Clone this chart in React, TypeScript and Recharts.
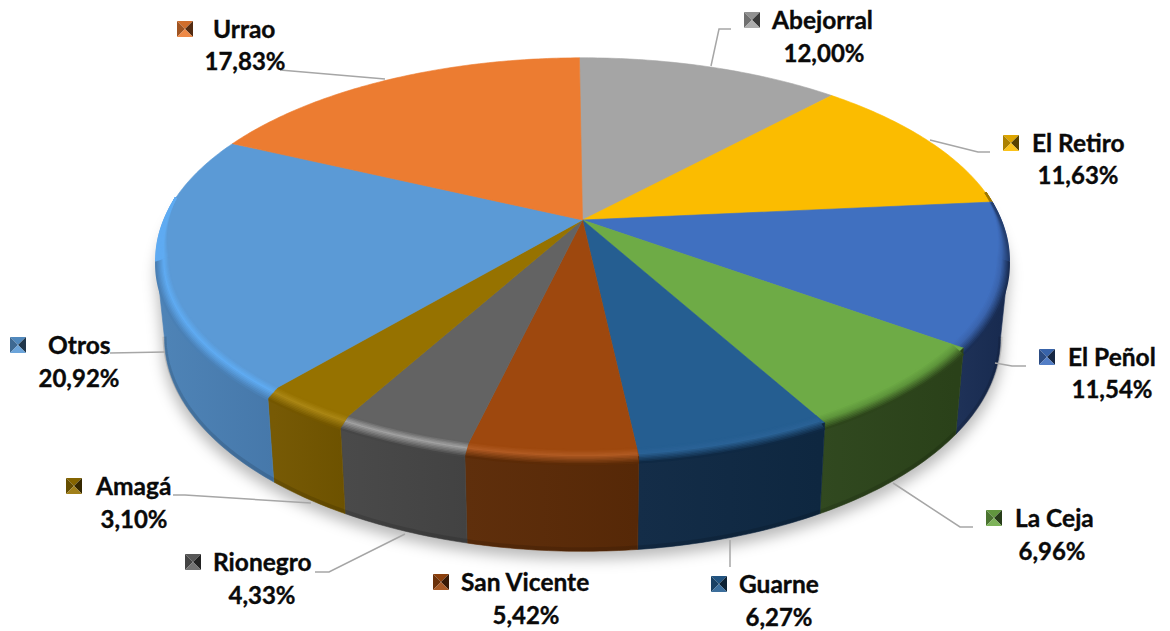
import React from "react";
import { PieChart, Pie } from "recharts";

const CATEGORIES = ["Abejorral", "El Retiro", "El Peñol", "La Ceja", "Guarne", "San Vicente", "Rionegro", "Amagá", "Otros", "Urrao"];
const VALUES = [12.0, 11.63, 11.54, 6.96, 6.27, 5.42, 4.33, 3.1, 20.92, 17.83];

const FACE_COLORS = ["#A5A5A5", "#FBBC00", "#4070C0", "#6EAB46", "#255E91", "#9E480E", "#636363", "#967200", "#5B9AD6", "#EC7C31"];
const WALL_COLORS = ["#5A5A5A", "#8A6800", "#1A2E55", "#2D451B", "#0F2944", "#5C2B07", "#464646", "#745700", "#4A80B5", "#8A4A1C"];
const RIM_COLORS = ["#A5A5A5", "#C99800", "#3A64AD", "#5E953B", "#2A6296", "#B05A22", "#A0A0A0", "#AA8614", "#5FABF2", "#EC7C31"];

// Text layout: [marker x, marker y, name x, name y, percent x, percent y]
const LABEL_LAYOUT = [
  [744, 12, 772, 29, 824, 62],
  [1003, 135, 1032, 152, 1078, 184],
  [1039, 349, 1068, 366, 1112, 398],
  [986, 510, 1015, 527, 1052, 560],
  [711, 576, 739, 593, 779, 626],
  [433, 574, 461, 591, 526, 624],
  [185, 554, 213, 571, 262, 604],
  [66, 478, 96, 495, 134, 528],
  [10, 337, 48, 354, 79, 387],
  [177, 21, 213, 38, 245, 70],
];
const LEADERS = [
  "711,66 719,29 731,29",
  "930,140 978,152 990,152",
  "995,363 1012,366 1026,366",
  "893,483 960,527 973,527",
  "730,540 730,567",
  "",
  "405,534 329,572 315,572",
  "311,503 185,495 173,495",
  "110,353 165,352",
  "280,70 385,79",
];

const rows = CATEGORIES.map((name, i) => ({ name, value: VALUES[i] }));

const CX = 582.5;
const CY = 220;
const RADIUS = 418.7;
const TILT = 0.461;
const PERSP = 0.19;
const WALL_SCALE = 0.98;
const WALL_TILT = 0.49;
const WALL_CY = CY + 78;
const SIL_A = 101;
const SIL_B = 259;

type Pt = [number, number];
const rad = (d: number) => (d * Math.PI) / 180;
const topPoint = (phi: number, cx: number, cy: number, R: number, r = 1): Pt => {
  const u = Math.sin(rad(phi)) * r;
  const v = Math.cos(rad(phi)) * r;
  const w = 1 + PERSP * v;
  return [cx + (R * u) / w, cy - (R * TILT * v) / w];
};
const botPoint = (phi: number, cx: number, R: number): Pt => {
  const u = Math.sin(rad(phi));
  const v = Math.cos(rad(phi));
  const w = 1 + PERSP * v;
  return [cx + (R * WALL_SCALE * u) / w, WALL_CY - (R * WALL_TILT * v) / w];
};
const range = (a: number, b: number): number[] => {
  const out: number[] = [];
  const n = Math.max(2, Math.ceil((b - a) / 0.75));
  for (let i = 0; i <= n; i++) out.push(a + ((b - a) * i) / n);
  return out;
};
const pts = (p: Pt[]) => p.map((q) => `${q[0].toFixed(2)},${q[1].toFixed(2)}`).join(" ");
const hex = (c: string) => [1, 3, 5].map((i) => parseInt(c.slice(i, i + 2), 16));
const mix = (a: string, b: string, t: number) => {
  const x = hex(a);
  const y = hex(b);
  return "#" + x.map((v, i) => Math.round(v + (y[i] - v) * t).toString(16).padStart(2, "0")).join("");
};
const clamp01 = (t: number) => Math.max(0, Math.min(1, t));
const taper = (phi: number) => {
  const v = Math.cos(rad(phi));
  return phi > 180 ? clamp01((0.12 - v) / 0.3) : clamp01((0.15 - v) / 0.35);
};

const Slice = (props: any) => {
  const { cx, cy, outerRadius: R, startAngle, endAngle, name } = props;
  const i = CATEGORIES.indexOf(name);
  const p0 = 90 - startAngle;
  const p1 = 90 - endAngle;
  const face = FACE_COLORS[i];
  const wall = WALL_COLORS[i];
  const rim = RIM_COLORS[i];
  const facePts = [[cx, cy] as Pt, ...range(p0, p1).map((p) => topPoint(p, cx, cy, R))];
  const w0 = Math.max(p0, SIL_A);
  const w1 = Math.min(p1, SIL_B);
  const hasWall = w1 > w0;
  const wallAngles = hasWall ? range(w0, w1) : [];
  const wallTop = wallAngles.map((p) => topPoint(p, cx, cy, R));
  const wallBot = wallAngles.map((p) => botPoint(p, cx, R));
  const gid = `wall-${i}`;
  const strips: React.ReactNode[] = [];
  const N = 10;
  const linePoints = (a: number, b: number, s: number) =>
    range(a, b)
      .filter((p) => taper(p) > 0)
      .map((p) => {
        const t = taper(p);
        const q = topPoint(p, cx, cy, R, 1 - t * 0.028 * (1 - s));
        return [q[0], q[1] + t * 6 * s * (p > SIL_A && p < SIL_B ? 1 : 0.5)] as Pt;
      });
  for (let k = 0; k <= N; k++) {
    const s = k / N;
    const up = s < 0.4 ? mix(face, rim, s / 0.4) : rim;
    const inside = s < 0.4 ? up : mix(rim, wall, (s - 0.4) / 0.6);
    const before = s < 0.4 ? up : mix(rim, wall, ((s - 0.4) / 0.6) * 0.7);
    const segments: [number, number, string][] = [
      [p0, Math.min(p1, SIL_A), before],
      [Math.max(p0, SIL_A), Math.min(p1, SIL_B), inside],
      [Math.max(p0, SIL_B), p1, up],
    ];
    segments.forEach(([a, b, color], j) => {
      if (b <= a) return;
      const line = linePoints(a, b, s);
      if (line.length < 2) return;
      strips.push(<polyline key={`${k}-${j}`} points={pts(line)} fill="none" stroke={color} strokeWidth={2} />);
    });
  }
  return (
    <g>
      <polygon points={pts(facePts)} fill={face} stroke={face} strokeWidth={0.6} />
      {hasWall && (
        <>
          <defs>
            <linearGradient id={gid} gradientUnits="userSpaceOnUse" x1={Math.min(wallBot[0][0], wallBot[wallBot.length - 1][0])} x2={Math.max(wallBot[0][0], wallBot[wallBot.length - 1][0])} y1={0} y2={0}>
              <stop offset="0" stopColor={mix(wall, "#ffffff", 0.02)} />
              <stop offset="1" stopColor={mix(wall, "#000000", 0.06)} />
            </linearGradient>
          </defs>
          <polygon points={pts([...wallTop, ...wallBot.slice().reverse()])} fill={`url(#${gid})`} stroke={wall} strokeWidth={0.6} />
          <polyline points={pts(wallBot.map((q) => [q[0], q[1] - 2] as Pt))} fill="none" stroke="#000" strokeOpacity={0.12} strokeWidth={4} />
        </>
      )}
      {strips}
    </g>
  );
};

const Marker = ({ x, y, color }: { x: number; y: number; color: string }) => {
  const s = 16;
  const c = [x + s / 2, y + s / 2].join(",");
  const tl = `${x},${y}`;
  const tr = `${x + s},${y}`;
  const bl = `${x},${y + s}`;
  const br = `${x + s},${y + s}`;
  return (
    <g>
      <polygon points={`${tl} ${tr} ${c}`} fill={mix(color, "#000000", 0.12)} />
      <polygon points={`${tl} ${bl} ${c}`} fill={mix(color, "#000000", 0.32)} />
      <polygon points={`${tr} ${br} ${c}`} fill={mix(color, "#000000", 0.65)} />
      <polygon points={`${bl} ${br} ${c}`} fill={mix(color, "#ffffff", 0.1)} />
    </g>
  );
};

const renderLabel = (props: any) => {
  const i = CATEGORIES.indexOf(props.name);
  const [mx, my, nx, ny, px, py] = LABEL_LAYOUT[i];
  const base = { fontFamily: "Lato, 'Open Sans', sans-serif", fontWeight: 700, fill: "#0a0a0a", stroke: "#0a0a0a", strokeWidth: 0.35 } as const;
  return (
    <g key={CATEGORIES[i]}>
      {LEADERS[i] && <polyline points={LEADERS[i]} fill="none" stroke="#A6A6A6" strokeWidth={1.5} />}
      <Marker x={mx} y={my} color={FACE_COLORS[i]} />
      <text x={nx} y={ny} textAnchor="start" style={{ ...base, fontSize: 24.5 }}>{CATEGORIES[i]}</text>
      <text x={px} y={py} textAnchor="middle" style={{ ...base, fontSize: 24 }}>{VALUES[i].toFixed(2).replace(".", ",") + "%"}</text>
    </g>
  );
};

const Shadow = () => {
  const outline = range(SIL_A, SIL_B).map((p) => botPoint(p, CX, RADIUS));
  const upper = range(SIL_B, SIL_A + 360).map((p) => topPoint(p, CX, CY, RADIUS));
  return (
    <g>
      <defs>
        <filter id="pie-shadow" x="-10%" y="-10%" width="120%" height="125%">
          <feGaussianBlur stdDeviation="7" />
        </filter>
      </defs>
      <polygon points={pts([...upper.map((q) => [q[0], q[1] + 20] as Pt), ...outline.map((q) => [q[0] + (q[0] > CX ? 2 : -2), q[1] + 8] as Pt)])} fill="#000" fillOpacity={0.27} filter="url(#pie-shadow)" />
    </g>
  );
};

export default function App() {
  return (
    <div style={{ position: "absolute", left: 0, top: 0, width: 1170, height: 631, background: "#fff" }}>
      <PieChart width={1170} height={631} margin={{ top: 0, right: 0, bottom: 0, left: 0 }}>
        <Shadow />
        <Pie
          data={rows}
          dataKey="value"
          nameKey="name"
          cx={CX}
          cy={CY}
          innerRadius={0}
          outerRadius={RADIUS}
          startAngle={90.5}
          endAngle={-269.5}
          stroke="none"
          shape={Slice}
          label={renderLabel}
          labelLine={false}
          isAnimationActive={false}
        />
      </PieChart>
    </div>
  );
}
